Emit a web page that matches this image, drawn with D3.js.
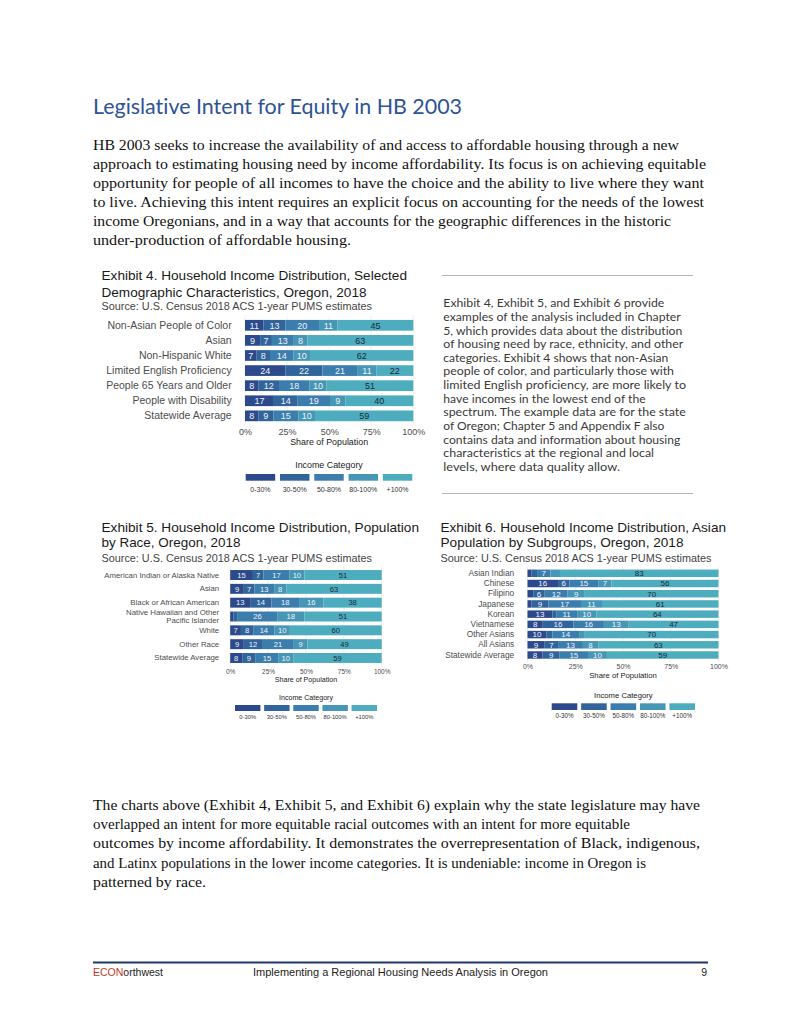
<!DOCTYPE html>
<html><head><meta charset="utf-8">
<script src="https://cdn.jsdelivr.net/npm/d3@7"></script>
<style>body{margin:0;background:#fff} text{font-variant-ligatures:none;font-feature-settings:"liga" 0,"clig" 0}</style>
</head><body>
<svg id="page" width="800" height="1035"></svg>
<script>
// ---------------- DATA ----------------
const pageTitle = "Legislative Intent for Equity in HB 2003";
const introLines = [
  "HB 2003 seeks to increase the availability of and access to affordable housing through a new",
  "approach to estimating housing need by income affordability. Its focus is on achieving equitable",
  "opportunity for people of all incomes to have the choice and the ability to live where they want",
  "to live. Achieving this intent requires an explicit focus on accounting for the needs of the lowest",
  "income Oregonians, and in a way that accounts for the geographic differences in the historic",
  "under-production of affordable housing."
];
const sideLines = [
  "Exhibit 4, Exhibit 5, and Exhibit 6 provide",
  "examples of the analysis included in Chapter",
  "5, which provides data about the distribution",
  "of housing need by race, ethnicity, and other",
  "categories. Exhibit 4 shows that non-Asian",
  "people of color, and particularly those with",
  "limited English proficiency, are more likely to",
  "have incomes in the lowest end of the",
  "spectrum. The example data are for the state",
  "of Oregon; Chapter 5 and Appendix F also",
  "contains data and information about housing",
  "characteristics at the regional and local",
  "levels, where data quality allow."
];
const closingLines = [
  "The charts above (Exhibit 4, Exhibit 5, and Exhibit 6) explain why the state legislature may have",
  "overlapped an intent for more equitable racial outcomes with an intent for more equitable",
  "outcomes by income affordability. It demonstrates the overrepresentation of Black, indigenous,",
  "and Latinx populations in the lower income categories. It is undeniable: income in Oregon is",
  "patterned by race."
];
const sourceText = "Source: U.S. Census 2018 ACS 1-year PUMS estimates";
const axisTitle = "Share of Population";
const legendTitle = "Income Category";
const incomeCats = ["0-30%", "30-50%", "50-80%", "80-100%", "+100%"];
const pctTicks = [0, 0.25, 0.5, 0.75, 1];

const ex4Title = ["Exhibit 4. Household Income Distribution, Selected", "Demographic Characteristics, Oregon, 2018"];
const ex4Groups = ["Non-Asian People of Color", "Asian", "Non-Hispanic White", "Limited English Proficiency",
  "People 65 Years and Older", "People with Disability", "Statewide Average"];
const ex4Inc0_30   = [11, 9, 7, 24, 8, 17, 8];
const ex4Inc30_50  = [13, 7, 8, 22, 12, 14, 9];
const ex4Inc50_80  = [20, 13, 14, 21, 18, 19, 15];
const ex4Inc80_100 = [11, 8, 10, 11, 10, 9, 10];
const ex4Inc100p   = [45, 63, 62, 22, 51, 40, 59];

const ex5Title = ["Exhibit 5. Household Income Distribution, Population", "by Race, Oregon, 2018"];
const ex5Groups = ["American Indian or Alaska Native", "Asian", "Black or African American",
  "Native Hawaiian and Other\nPacific Islander", "White", "Other Race", "Statewide Average"];
const ex5Inc0_30   = [15, 9, 13, 2, 7, 9, 8];
const ex5Inc30_50  = [7, 7, 14, 3, 8, 12, 9];
const ex5Inc50_80  = [17, 13, 18, 26, 14, 21, 15];
const ex5Inc80_100 = [10, 8, 16, 18, 10, 9, 10];
const ex5Inc100p   = [51, 63, 38, 51, 60, 49, 59];

const ex6Title = ["Exhibit 6. Household Income Distribution, Asian", "Population by Subgroups, Oregon, 2018"];
const ex6Groups = ["Asian Indian", "Chinese", "Filipino", "Japanese", "Korean", "Vietnamese",
  "Other Asians", "All Asians", "Statewide Average"];
const ex6Inc0_30   = [2, 16, 3, 2, 13, 8, 10, 9, 8];
const ex6Inc30_50  = [3, 6, 6, 9, 2, 16, 3, 7, 9];
const ex6Inc50_80  = [7, 15, 12, 17, 11, 16, 14, 13, 15];
const ex6Inc80_100 = [5, 7, 9, 11, 10, 13, 3, 8, 10];
const ex6Inc100p   = [83, 56, 70, 61, 64, 47, 70, 63, 59];

// ---------------- STYLE / LAYOUT ----------------
const incomeColors = ["#2c4a8b", "#30649b", "#3b7dac", "#4696b5", "#4dadbf"];
const SANS = "'Liberation Sans', Arial, sans-serif";
const SERIF = "'Liberation Serif', 'Times New Roman', serif";
const HUM = "Lato, 'Open Sans', sans-serif";

const svg = d3.select("#page");
svg.append("rect").attr("width", 800).attr("height", 1035).attr("fill", "#fff");

function textLine(parent, str, x, y, o) {
  const t = parent.append("text").attr("x", x).attr("y", y).text(str)
    .attr("font-family", o.font).attr("font-size", o.size).attr("fill", o.color || "#222");
  if (o.anchor) t.attr("text-anchor", o.anchor);
  if (o.width) t.attr("textLength", o.width).attr("lengthAdjust", "spacingAndGlyphs");
  return t;
}

// Page title
textLine(svg, pageTitle, 93, 114, {font: HUM, size: 21, color: "#2e5395", width: 369});

// Intro paragraph
const introEnds = [679, 706, 704, 704, 671, 351];
introLines.forEach((l, i) => textLine(svg, l, 93, 150 + i * 19,
  {font: SERIF, size: 15, color: "#111", width: introEnds[i] - 93}));

// Side note
svg.append("line").attr("x1", 442).attr("x2", 693).attr("y1", 275.5).attr("y2", 275.5)
  .attr("stroke", "#b5b5b5").attr("stroke-width", 1);
svg.append("line").attr("x1", 442).attr("x2", 693).attr("y1", 493.5).attr("y2", 493.5)
  .attr("stroke", "#b5b5b5").attr("stroke-width", 1);
const sideEnds = [664.3, 680.7, 682.3, 683.3, 668.3, 674, 686, 645.7, 685.7, 664.3, 680.3, 654, 620];
sideLines.forEach((l, i) => textLine(svg, l, 443.3, 307.3 + i * 13.62,
  {font: HUM, size: 11.3, color: "#3a3a3a", width: sideEnds[i] - 443.3}));

// Closing paragraph
const closingEnds = [700, 630, 700, 646, 206];
closingLines.forEach((l, i) => textLine(svg, l, 93, 810 + i * 19.2,
  {font: SERIF, size: 15, color: "#111", width: closingEnds[i] - 93}));

// Footer
svg.append("line").attr("x1", 93).attr("x2", 708).attr("y1", 962.5).attr("y2", 962.5)
  .attr("stroke", "#1f3566").attr("stroke-width", 2.2);
const ft = svg.append("text").attr("x", 93).attr("y", 975.5).attr("font-family", SANS)
  .attr("font-size", 10.5);
ft.append("tspan").attr("fill", "#c0392b").text("ECON");
ft.append("tspan").attr("fill", "#222").text("orthwest");
textLine(svg, "Implementing a Regional Housing Needs Analysis in Oregon", 253, 975.5,
  {font: SANS, size: 10.5, color: "#222", width: 295});
textLine(svg, "9", 707, 975.5, {font: SANS, size: 10.5, color: "#222", anchor: "end"});

// ---------------- CHARTS ----------------
function drawExhibit(cfg) {
  const g = svg.append("g");
  // titles
  textLine(g, cfg.title[0], cfg.tx, cfg.ty[0], {font: SANS, size: cfg.titleSize, color: "#1a1a1a", width: cfg.tw[0]});
  textLine(g, cfg.title[1], cfg.tx, cfg.ty[1], {font: SANS, size: cfg.titleSize, color: "#1a1a1a", width: cfg.tw[1]});
  textLine(g, sourceText, cfg.tx, cfg.ty[2], {font: SANS, size: cfg.srcSize, color: "#444", width: cfg.tw[2]});

  const rows = cfg.groups.map((c, i) => {
    const r = {group: c};
    incomeCats.forEach((k, j) => r[k] = cfg.series[j][i]);
    return r;
  });
  const stacked = d3.stack().keys(incomeCats).offset(d3.stackOffsetExpand)(rows);

  const x = d3.scaleLinear().domain([0, 1]).range([cfg.x0, cfg.x1]);
  const y = d3.scaleBand().domain(cfg.groups).range([cfg.y0, cfg.y1])
    .paddingInner(cfg.pad).paddingOuter(cfg.pad / 2);
  const color = d3.scaleOrdinal().domain(incomeCats).range(incomeColors);

  // grid
  g.append("g").selectAll("line").data(pctTicks).join("line")
    .attr("x1", d => x(d)).attr("x2", d => x(d))
    .attr("y1", cfg.y0 - 2).attr("y2", cfg.y1 + 2)
    .attr("stroke", "#ebebeb").attr("stroke-width", 0.8);

  // bars
  const layers = g.append("g").selectAll("g").data(stacked).join("g")
    .attr("fill", d => color(d.key));
  layers.selectAll("rect").data(d => d.map(s => ({s, key: d.key}))).join("rect")
    .attr("x", d => x(d.s[0])).attr("width", d => x(d.s[1]) - x(d.s[0]))
    .attr("y", d => y(d.s.data.group)).attr("height", y.bandwidth());

  // labels
  const lab = g.append("g").attr("font-family", SANS).attr("font-size", cfg.barLabSize)
    .attr("text-anchor", "middle");
  stacked.forEach(layer => {
    layer.forEach(s => {
      const v = s.data[layer.key];
      if (v < 6) return;
      lab.append("text").attr("x", x((s[0] + s[1]) / 2))
        .attr("y", y(s.data.group) + y.bandwidth() / 2).attr("dy", "0.36em")
        .attr("fill", layer.key === "+100%" ? "#1b2a38" : "#eef3f8").text(v);
    });
  });

  // y axis
  const ya = g.append("g").attr("transform", `translate(${cfg.x0},0)`)
    .call(d3.axisLeft(y).tickSize(0).tickPadding(cfg.yPad));
  ya.select(".domain").remove();
  ya.selectAll("text").attr("font-family", SANS).attr("font-size", cfg.catSize).attr("fill", "#4d4d4d")
    .each(function (d) {
      const parts = d.split("\n");
      if (parts.length > 1) {
        const t = d3.select(this).text(null).attr("dy", null);
        const lh = cfg.catSize * 1.05;
        parts.forEach((p, i) => t.append("tspan").attr("x", -cfg.yPad)
          .attr("y", (i - (parts.length - 1) / 2) * lh).attr("dy", "0.35em").text(p));
      }
    });

  // x axis
  const xa = g.append("g").attr("transform", `translate(0,${cfg.tickY})`)
    .call(d3.axisBottom(x).tickValues(pctTicks).tickFormat(d3.format(".0%")).tickSize(0));
  xa.select(".domain").remove();
  xa.selectAll("text").attr("y", 0).attr("dy", "0.35em").attr("font-family", SANS)
    .attr("font-size", cfg.tickSize).attr("fill", "#4d4d4d");
  textLine(g, axisTitle, (cfg.x0 + cfg.x1) / 2, cfg.axTitleY, {font: SANS, size: cfg.axTitleSize, color: "#1a1a1a", anchor: "middle"})
    .attr("dy", "0.35em");

  // legend
  const lx = d3.scaleBand().domain(incomeCats).range([cfg.lx0, cfg.lx1]).paddingInner(cfg.lpad);
  textLine(g, legendTitle, (cfg.lx0 + cfg.lx1) / 2, cfg.legTitleY, {font: SANS, size: cfg.axTitleSize, color: "#1a1a1a", anchor: "middle"})
    .attr("dy", "0.35em");
  g.append("g").selectAll("rect").data(incomeCats).join("rect")
    .attr("x", d => lx(d)).attr("width", lx.bandwidth())
    .attr("y", cfg.keyY).attr("height", cfg.keyH).attr("fill", d => color(d));
  g.append("g").selectAll("text").data(incomeCats).join("text")
    .attr("x", d => lx(d) + lx.bandwidth() / 2).attr("y", cfg.legLabY).attr("dy", "0.35em")
    .attr("text-anchor", "middle").attr("font-family", SANS).attr("font-size", cfg.legLabSize)
    .attr("fill", "#333").text(d => d);
}

drawExhibit({
  title: ex4Title, tx: 101.5, ty: [280, 296.5, 310], tw: [305.5, 265, 270.5], titleSize: 13.2, srcSize: 11,
  groups: ex4Groups, series: [ex4Inc0_30, ex4Inc30_50, ex4Inc50_80, ex4Inc80_100, ex4Inc100p],
  x0: 245, x1: 413.3, y0: 317.75, y1: 423.4, pad: 0.29, yPad: 13.3,
  catSize: 10.5, barLabSize: 9, tickSize: 9, tickY: 432.3, axTitleY: 442.3, axTitleSize: 8.9,
  legTitleY: 465, lx0: 245.7, lx1: 412.3, lpad: 0.14, keyY: 474, keyH: 6.7, legLabY: 489.3, legLabSize: 7
});

drawExhibit({
  title: ex5Title, tx: 101.5, ty: [531.5, 547, 561.5], tw: [317.5, 139, 270.5], titleSize: 13.2, srcSize: 11,
  groups: ex5Groups, series: [ex5Inc0_30, ex5Inc30_50, ex5Inc50_80, ex5Inc80_100, ex5Inc100p],
  x0: 230.2, x1: 381.7, y0: 568.1, y1: 664.9, pad: 0.28, yPad: 11,
  catSize: 7.8, barLabSize: 7.6, tickSize: 6.5, tickY: 672, axTitleY: 680, axTitleSize: 7.1,
  legTitleY: 698, lx0: 235, lx1: 377, lpad: 0.127, keyY: 705, keyH: 6, legLabY: 717.3, legLabSize: 5.8
});

drawExhibit({
  title: ex6Title, tx: 440.5, ty: [531.5, 547, 561.5], tw: [285.5, 243, 271], titleSize: 13.2, srcSize: 11,
  groups: ex6Groups, series: [ex6Inc0_30, ex6Inc30_50, ex6Inc50_80, ex6Inc80_100, ex6Inc100p],
  x0: 527.5, x1: 718.5, y0: 568.2, y1: 660.1, pad: 0.27, yPad: 13.3,
  catSize: 8.3, barLabSize: 8, tickSize: 7, tickY: 666.7, axTitleY: 675.7, axTitleSize: 7.7,
  legTitleY: 695.7, lx0: 551.7, lx1: 695, lpad: 0.13, keyY: 703.3, keyH: 6.7, legLabY: 716, legLabSize: 6.3
});
</script>
</body></html>
